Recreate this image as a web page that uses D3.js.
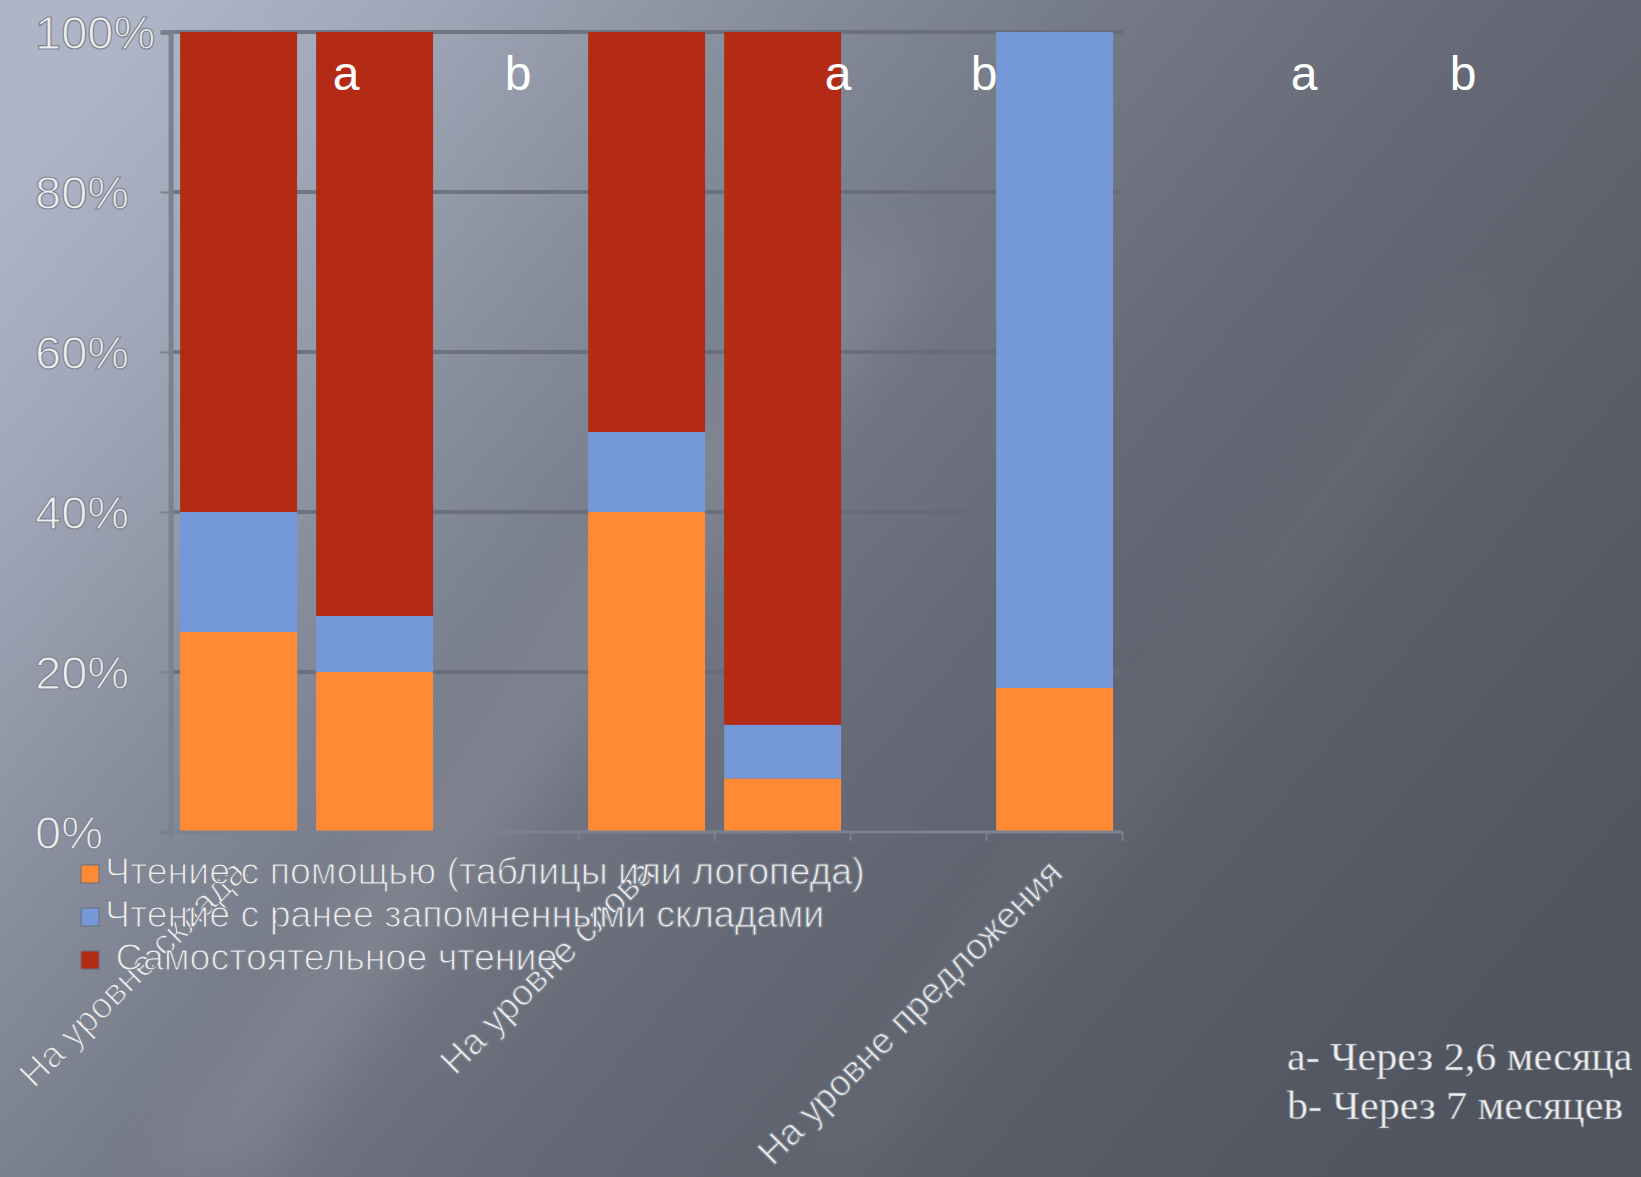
<!DOCTYPE html>
<html>
<head>
<meta charset="utf-8">
<script src="https://cdn.jsdelivr.net/npm/d3@7"></script>
<style>
  body { margin: 0; background: #6f7480; }
  svg text { font-family: "Liberation Sans", Arial, sans-serif; }
</style>
</head>
<body>
<div id="chart"></div>
<script>
const w = 1641;
const h = 1177;

// categories (7 slots, labels only on some of them)
const slots = [0, 1, 2, 3, 4, 5, 6];
const slotLabels = ["На уровне склада", "", "", "На уровне слова", "", "", "На уровне предложения"];

// series, % of each slot
const seriesNames = [
    "Чтение с помощью (таблицы или логопеда)",
    "Чтение с ранее запомненными складами",
    " Самостоятельное чтение"
];
const withHelp = [25, 20, 0, 40, 6.7, 0, 18];
const memorized = [15, 7, 0, 10, 6.7, 0, 82];
const independent = [60, 73, 0, 50, 86.6, 0, 0];
const colors = ["#fe8a36", "#7598d8", "#b42b15"];

const yTicks = [0, 20, 40, 60, 80, 100];

// overlay labels and note
const marks = ["a", "b", "a", "b", "a", "b"];
const markX = [346, 518, 838, 984, 1304, 1463];
const notes = ["a- Через 2,6 месяца", "b- Через 7 месяцев"];

const margin = { left: 170.6, top: 32, right: 1122.6, bottom: 832 };

const svg = d3.select("#chart")
    .append("svg")
    .attr("width", w)
    .attr("height", h);

// background
const defs = svg.append("defs");
const bg = defs.append("linearGradient")
    .attr("id", "bg")
    .attr("x1", 0).attr("y1", 0.15)
    .attr("x2", 1).attr("y2", 0.75);
[[0, "#aeb5c7"], [0.12, "#a1a7b8"], [0.28, "#888e9d"], [0.42, "#767b88"],
 [0.6, "#666a76"], [0.8, "#5a5e69"], [1, "#51555f"]].forEach(s => {
    bg.append("stop").attr("offset", s[0]).attr("stop-color", s[1]);
});
const streak = defs.append("filter").attr("id", "blur");
streak.append("feGaussianBlur").attr("stdDeviation", 30);

svg.append("rect")
    .attr("width", w)
    .attr("height", h)
    .attr("fill", "url(#bg)");

// soft diagonal streaks
svg.append("path")
    .attr("d", "M 820 250 L 940 250 L 260 1177 L 140 1177 Z")
    .attr("fill", "#ffffff")
    .attr("opacity", 0.08)
    .attr("filter", "url(#blur)");
svg.append("path")
    .attr("d", "M 1450 300 L 1520 300 L 860 1177 L 790 1177 Z")
    .attr("fill", "#ffffff")
    .attr("opacity", 0.04)
    .attr("filter", "url(#blur)");

const xScale = d3.scaleBand()
    .domain(slots)
    .range([margin.left, margin.right])
    .paddingInner(0.14)
    .paddingOuter(0.07);

const yScale = d3.scaleLinear()
    .domain([0, 100])
    .range([margin.bottom, margin.top]);

const textStyle = sel => sel
    .attr("fill", "#eeeeee")
    .attr("stroke", "#7f8490")
    .attr("stroke-width", 1.2);

// gridlines
svg.append("g")
    .selectAll("line")
    .data(yTicks.slice(1))
    .enter()
    .append("line")
    .attr("x1", margin.left)
    .attr("x2", margin.right)
    .attr("y1", d => yScale(d))
    .attr("y2", d => yScale(d))
    .attr("stroke", "#666b77")
    .attr("stroke-width", 4)
    .attr("opacity", 0.8);

// stacked bars
const table = slots.map(i => ({ slot: i, s0: withHelp[i], s1: memorized[i], s2: independent[i] }));
const stack = d3.stack().keys(["s0", "s1", "s2"])(table);

svg.append("g")
    .selectAll("g")
    .data(stack)
    .enter()
    .append("g")
    .attr("fill", (d, i) => colors[i])
    .selectAll("rect")
    .data(d => d)
    .enter()
    .append("rect")
    .attr("x", d => xScale(d.data.slot))
    .attr("y", d => yScale(d[1]))
    .attr("width", xScale.bandwidth())
    .attr("height", d => yScale(d[0]) - yScale(d[1]));

// y axis
const yAxis = d3.axisLeft(yScale)
    .tickValues(yTicks)
    .tickSize(10)
    .tickFormat(d => d + "%");

const yG = svg.append("g")
    .attr("transform", `translate(${margin.left}, 0)`)
    .call(yAxis);
yG.select(".domain").attr("stroke", "#7b818e").attr("stroke-width", 5);
yG.selectAll(".tick line").attr("stroke", "#7b818e").attr("stroke-width", 2);
yG.selectAll(".tick text")
    .attr("x", 35 - margin.left)
    .attr("text-anchor", "start")
    .attr("dy", "0.36em")
    .style("font-size", "47px")
    .call(textStyle);

// x axis
const xAxisLine = svg.append("g");
xAxisLine.append("line")
    .attr("x1", margin.left)
    .attr("x2", margin.right)
    .attr("y1", margin.bottom)
    .attr("y2", margin.bottom)
    .attr("stroke", "#7b818e")
    .attr("stroke-width", 3);
xAxisLine.selectAll(".xt")
    .data(slots.concat([slots.length]))
    .enter()
    .append("line")
    .attr("x1", d => margin.left + d * xScale.step())
    .attr("x2", d => margin.left + d * xScale.step())
    .attr("y1", margin.bottom)
    .attr("y2", margin.bottom + 9)
    .attr("stroke", "#7b818e")
    .attr("stroke-width", 2);

// rotated category labels
svg.append("g")
    .selectAll("text")
    .data(slots.filter(i => slotLabels[i] !== ""))
    .enter()
    .append("text")
    .attr("transform", d => `translate(${xScale(d) + xScale.bandwidth() / 2 + 10}, ${margin.bottom + 43}) rotate(-45)`)
    .attr("text-anchor", "end")
    .style("font-size", "36.5px")
    .text(d => slotLabels[d])
    .call(textStyle);

// legend
const legend = svg.append("g");
seriesNames.forEach((name, i) => {
    const base = 884 + i * 43;
    legend.append("rect")
        .attr("x", 81)
        .attr("y", base - 19)
        .attr("width", 18)
        .attr("height", 18)
        .attr("fill", colors[i])
        .attr("stroke", "#6a6f7b")
        .attr("stroke-width", 1);
    legend.append("text")
        .attr("x", 105)
        .attr("y", base)
        .style("font-size", "37.5px")
        .style("white-space", "pre")
        .text(name)
        .call(textStyle);
});

// a / b marks
svg.append("g")
    .selectAll("text")
    .data(marks)
    .enter()
    .append("text")
    .attr("x", (d, i) => markX[i])
    .attr("y", 90)
    .attr("text-anchor", "middle")
    .attr("fill", "#ffffff")
    .style("font-size", "48px")
    .text(d => d);

// note
svg.append("g")
    .selectAll("text")
    .data(notes)
    .enter()
    .append("text")
    .attr("x", 1287)
    .attr("y", (d, i) => 1070 + i * 49)
    .attr("transform", "translate(1287, 0) scale(1.08, 1) translate(-1287, 0)")
    .style("font-family", "'Liberation Serif', 'Times New Roman', serif")
    .style("font-size", "39px")
    .text(d => d)
    .attr("fill", "#eeeeee")
    .attr("stroke", "#7f8490")
    .attr("stroke-width", 0.6);
</script>
</body>
</html>
